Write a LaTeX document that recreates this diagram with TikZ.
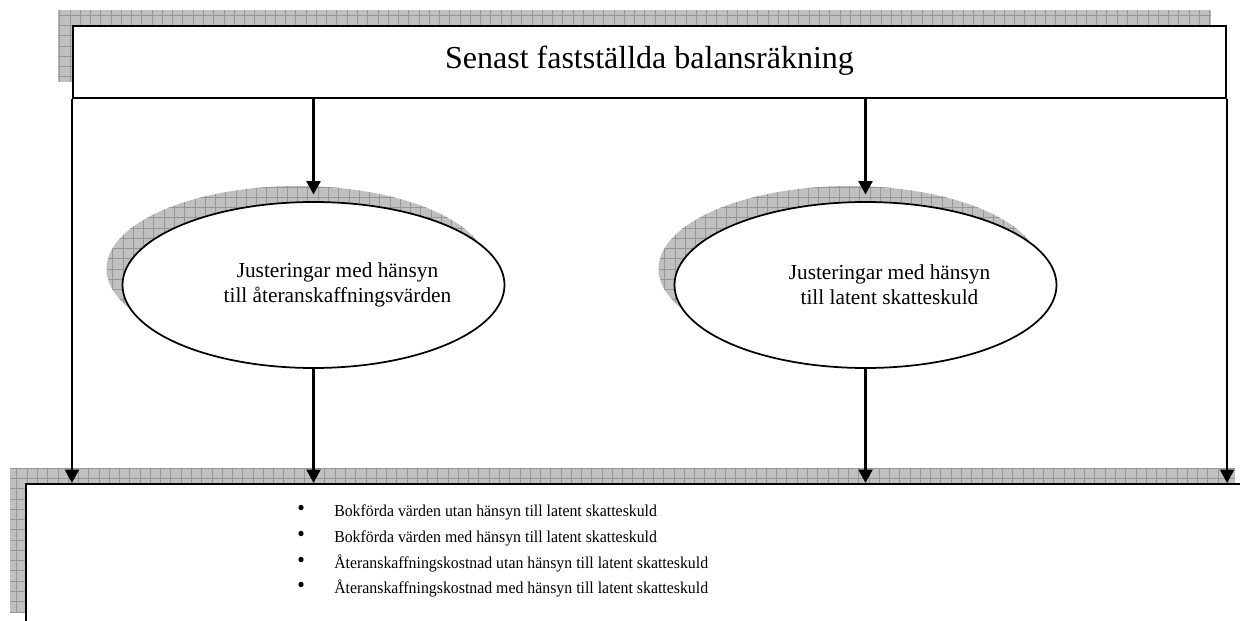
\documentclass[tikz,border=0pt]{standalone}
\usepackage{fontspec}
\setmainfont{Liberation Serif}
\newfontfamily\bulfont[FakeStretch=0.95]{Liberation Serif}
\usetikzlibrary{shapes.geometric,arrows.meta}
\definecolor{shadowgray}{RGB}{192,192,192}
\definecolor{gridgray}{RGB}{150,150,150}
\tikzset{
  shadowpat/.style={draw=none, fill=shadowgray, inner sep=0pt,
    path picture={\draw[gridgray, line width=0.5pt, step=7.7pt]
      (path picture bounding box.south west) grid (path picture bounding box.north east);}},
  boxnode/.style={draw=black, line width=1.6pt, fill=white, inner sep=0pt},
  ellnode/.style={ellipse, draw=black, line width=1.3pt, fill=white, inner sep=0pt,
    minimum width=286.5pt, minimum height=124.5pt},
  ellshadow/.style={ellipse, shadowpat, minimum width=286.5pt, minimum height=124.5pt},
  elltext/.style={align=center, inner sep=0pt, font=\fontsize{16}{18.75}\selectfont},
  bul/.style={anchor=base west, inner sep=0pt, font=\bulfont\fontsize{12.5}{14}\selectfont},
  arr/.style={line width=1.6pt, -{Triangle[length=10pt,width=10.5pt]}}
}
\begin{document}
\begin{tikzpicture}[x=0.75pt,y=-0.75pt]
\useasboundingbox (0,0) rectangle (1240,621);
\clip (0,0) rectangle (1240,621);

% top box with shadow
\node[shadowpat, minimum width=864.75pt, minimum height=54pt] (tops) at (634.5,46) {};
\node[boxnode, minimum width=864.75pt, minimum height=54pt] (top) at (649.5,62) {};
\node[inner sep=0pt, anchor=base, font=\fontsize{24}{28}\selectfont] (title) at (649.5,68) {Senast fastställda balansräkning};

% bottom box with shadow
\node[shadowpat, minimum width=918.75pt, minimum height=108pt] (bots) at (622.5,540) {};
\node[boxnode, minimum width=918.75pt, minimum height=108pt] (bot) at (638.5,556) {};

% ellipses with shadows
\node[ellshadow] (e1s) at (297.5,269) {};
\node[ellnode] (e1) at (313.5,285) {};
\node[elltext] (t1) at (337.5,284.5) {Justeringar med hänsyn\\till återanskaffningsvärden};

\node[ellshadow] (e2s) at (849.5,269) {};
\node[ellnode] (e2) at (865.5,285) {};
\node[elltext] (t2) at (889.5,284.5) {Justeringar med hänsyn\\till latent skatteskuld};

% connectors
\draw[arr] (top.south west) -- (top.south west |- bot.north);
\draw[arr] (top.south east) -- (top.south east |- bot.north);
\draw[arr, shorten >=5pt] (top.south -| e1.north) -- (e1.north);
\draw[arr, shorten >=5pt] (top.south -| e2.north) -- (e2.north);
\draw[arr] (e1.south) -- (e1.south |- bot.north);
\draw[arr] (e2.south) -- (e2.south |- bot.north);

% bullet list
\newcommand\bulmark{\makebox[27.75pt][l]{\raisebox{0.5pt}{\fontsize{17}{17}\selectfont\textbullet}}}
\node[bul] (b1) at (297,516) {\bulmark Bokförda värden utan hänsyn till latent skatteskuld};
\node[bul] (b2) at (297,542) {\bulmark Bokförda värden med hänsyn till latent skatteskuld};
\node[bul] (b3) at (297,568) {\bulmark Återanskaffningskostnad utan hänsyn till latent skatteskuld};
\node[bul] (b4) at (297,593) {\bulmark Återanskaffningskostnad med hänsyn till latent skatteskuld};
\end{tikzpicture}
\end{document}
